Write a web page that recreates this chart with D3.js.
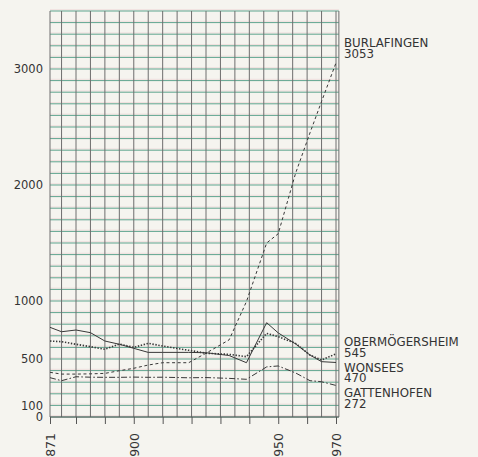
<!DOCTYPE html>
<html><head><meta charset="utf-8">
<script src="https://cdn.jsdelivr.net/npm/d3@7"></script>
<style>
html,body{margin:0;padding:0;background:#f5f4ef;}
svg{display:block;}
text{font-family:"DejaVu Sans",sans-serif;fill:#333;}
</style></head><body>
<svg id="c" width="478" height="457"></svg>
<script>
const years = [1871,1875,1880,1885,1890,1895,1900,1905,1910,1919,1925,1933,1939,1946,1950,1956,1961,1965,1970];
const burlafingen   = [385,370,370,372,376,399,420,448,468,468,550,665,995,1500,1580,2100,2450,2720,3053];
const obermoegersheim = [655,649,627,606,584,629,600,635,612,575,550,540,520,721,692,635,534,491,545];
const wonsees       = [773,735,750,727,655,627,592,557,557,557,554,530,468,813,725,630,534,477,470];
const gattenhofen   = [339,313,347,343,342,342,344,342,343,338,340,333,325,432,440,380,313,304,272];
const seriesNames = ["BURLAFINGEN","OBERMÖGERSHEIM","WONSEES","GATTENHOFEN"];
const endLabels = ["3053","545","470","272"];
const yTickValues = [0,100,500,1000,2000,3000];
const xTickValues = [1871,1880,1890,1900,1910,1920,1930,1940,1950,1960,1970];
const xLabelYears = [1871,1900,1950,1970];
const gridYears = [1871,1875,1880,1885,1890,1895,1900,1905,1910,1915,1920,1925,1930,1935,1940,1945,1950,1955,1960,1965,1970,1971];

const svg = d3.select("#c");
const x = d3.scaleLinear().domain([1871,1970]).range([50,336]);
const y = d3.scaleLinear().domain([0,3500]).range([417,11]);
const x0 = x(1871), x1 = x(1971);

// horizontal grid (teal with faint pink offset, like the print)
const hVals = d3.range(0,3501,100);
const g = svg.append("g");
g.selectAll("line.hp").data(hVals).join("line")
  .attr("x1",x0).attr("x2",x1)
  .attr("y1",d=>y(d)-1.3).attr("y2",d=>y(d)-1.3)
  .attr("stroke","#e6b4ba").attr("stroke-width",0.7).attr("opacity",0.45);
g.selectAll("line.h").data(hVals).join("line")
  .attr("x1",x0).attr("x2",x1)
  .attr("y1",d=>y(d)).attr("y2",d=>y(d))
  .attr("stroke","#5fa58f").attr("stroke-width",1);
// vertical grid
g.selectAll("line.v").data(gridYears).join("line")
  .attr("x1",d=>x(d)).attr("x2",d=>x(d))
  .attr("y1",y(3500)).attr("y2",y(0))
  .attr("stroke","#6e6e6e").attr("stroke-width",1);

// y axis
const ya = svg.append("g").attr("transform",`translate(${x0},0)`)
  .call(d3.axisLeft(y).tickValues(yTickValues).tickSize(0).tickPadding(7).tickFormat(d3.format("d")));
ya.select(".domain").remove();
ya.selectAll("text").style("font-size","11.5px").attr("fill","#333");

// x axis
const xa = svg.append("g").attr("transform",`translate(0,${y(0)})`)
  .call(d3.axisBottom(x).tickValues(xTickValues).tickSize(7)
    .tickFormat(d=>xLabelYears.includes(d)?String(d):""));
xa.select(".domain").attr("stroke","#555").attr("d",`M${x0},0H${x1}`);
xa.selectAll(".tick line").attr("stroke","#555");
xa.selectAll("text")
  .style("font-size","12.5px").attr("fill","#333")
  .attr("transform","rotate(-90)")
  .attr("text-anchor","end")
  .attr("x",-16).attr("y",0).attr("dy","0.36em");

// series
const data = [burlafingen, obermoegersheim, wonsees, gattenhofen];
const styles = [
  {dash:"3,2.6", w:1},
  {dash:"1.4,1.6", w:1.6},
  {dash:null, w:1},
  {dash:"6,2.2,1.6,2.2", w:1}
];
const line = d3.line().x((d,i)=>x(years[i])).y(d=>y(d));
data.forEach((vals,k)=>{
  svg.append("path").datum(vals)
    .attr("d",line).attr("fill","none")
    .attr("stroke","#383838").attr("stroke-width",styles[k].w)
    .attr("stroke-dasharray",styles[k].dash);
});

// end labels
const labelBase = [47,346,371.5,397];
seriesNames.forEach((n,k)=>{
  const t = svg.append("text").attr("x",344).attr("y",labelBase[k]).style("font-size","11.8px");
  t.append("tspan").attr("x",344).text(n);
  t.append("tspan").attr("x",344).attr("dy",10.8).text(endLabels[k]);
});
</script></body></html>
